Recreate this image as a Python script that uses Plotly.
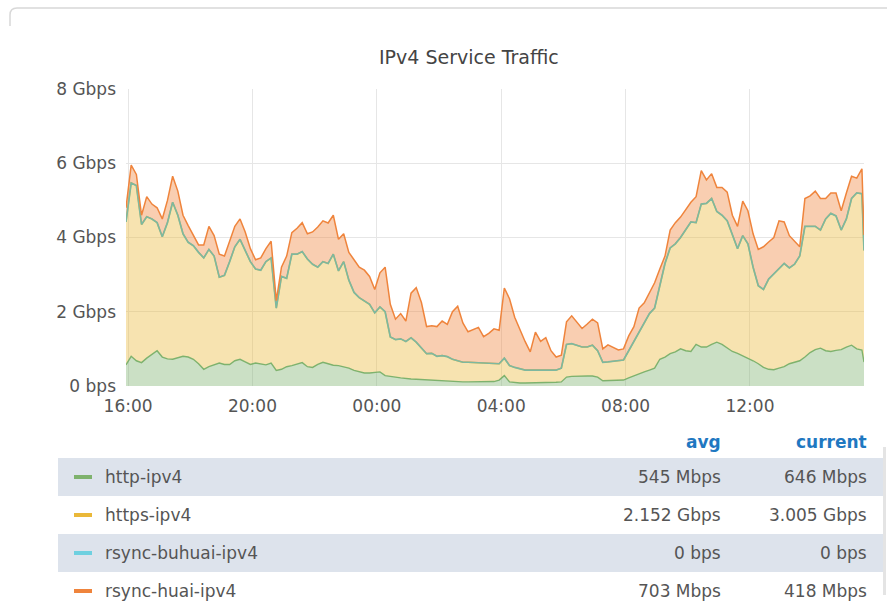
import plotly.graph_objects as go
import pandas as pd

# ---------------- data (Gbps), 10-minute samples from 15:56, last sample 15:40 ----------------
start_time = "2019-05-20 15:56"
n_regular = 143
end_time = "2019-05-21 15:40"

http = [0.57, 0.80, 0.68, 0.63, 0.75, 0.85, 0.95, 0.78, 0.73, 0.72,
        0.75, 0.80, 0.78, 0.72, 0.60, 0.45, 0.52, 0.58, 0.62, 0.58,
        0.58, 0.68, 0.72, 0.65, 0.58, 0.62, 0.60, 0.57, 0.62, 0.42,
        0.45, 0.52, 0.55, 0.58, 0.63, 0.52, 0.50, 0.58, 0.64, 0.60,
        0.56, 0.55, 0.52, 0.48, 0.42, 0.38, 0.35, 0.35, 0.36, 0.38,
        0.28, 0.25, 0.24, 0.22, 0.20, 0.19, 0.18, 0.17, 0.16, 0.15,
        0.14, 0.13, 0.13, 0.12, 0.11, 0.11, 0.11, 0.11, 0.11, 0.11,
        0.11, 0.12, 0.16, 0.28, 0.11, 0.09, 0.08, 0.08, 0.08, 0.08,
        0.08, 0.08, 0.09, 0.10, 0.11, 0.24, 0.26, 0.27, 0.27, 0.27,
        0.27, 0.24, 0.14, 0.15, 0.16, 0.16, 0.16, 0.22, 0.28, 0.34,
        0.38, 0.43, 0.48, 0.72, 0.78, 0.87, 0.92, 1.00, 0.95, 0.93,
        1.12, 1.05, 1.05, 1.12, 1.18, 1.12, 1.02, 0.93, 0.88, 0.82,
        0.75, 0.68, 0.60, 0.50, 0.45, 0.44, 0.48, 0.52, 0.60, 0.65,
        0.68, 0.78, 0.90, 0.98, 1.02, 0.95, 0.93, 0.96, 0.98, 1.05,
        1.10, 1.00, 0.97, 0.646]

https = [3.85, 4.67, 4.72, 3.72, 3.81, 3.65, 3.45, 3.24, 3.67, 4.23,
         3.85, 3.30, 3.09, 3.06, 3.00, 3.00, 3.16, 2.92, 2.31, 2.40,
         2.77, 3.07, 3.23, 3.00, 2.77, 2.53, 2.52, 2.78, 2.83, 1.68,
         2.50, 2.38, 3.00, 2.97, 2.99, 2.90, 2.78, 2.62, 2.71, 2.70,
         2.99, 2.55, 2.83, 2.37, 2.10, 2.00, 1.95, 1.85, 1.61, 1.75,
         1.72, 1.07, 1.01, 1.05, 1.00, 1.11, 1.00, 0.86, 0.71, 0.73,
         0.66, 0.69, 0.66, 0.60, 0.57, 0.53, 0.53, 0.52, 0.51, 0.51,
         0.51, 0.48, 0.44, 0.47, 0.44, 0.41, 0.38, 0.35, 0.35, 0.35,
         0.34, 0.33, 0.33, 0.33, 0.37, 0.88, 0.88, 0.83, 0.78, 0.78,
         0.83, 0.71, 0.50, 0.50, 0.51, 0.53, 0.54, 0.73, 0.92, 1.11,
         1.32, 1.52, 1.62, 1.98, 2.52, 2.85, 2.91, 3.00, 3.27, 3.49,
         3.28, 3.85, 3.87, 3.93, 3.52, 3.48, 3.43, 3.15, 2.82, 3.23,
         3.08, 2.52, 2.10, 2.10, 2.43, 2.58, 2.67, 2.78, 2.58, 2.63,
         2.82, 3.52, 3.40, 3.32, 3.18, 3.55, 3.72, 3.62, 3.22, 3.45,
         3.95, 4.20, 4.21, 3.005]

rsync_buhuai = [0.0] * 144

rsync_huai = [0.38, 0.48, 0.30, 0.25, 0.54, 0.40, 0.40, 0.48, 0.60, 0.70,
              0.65, 0.50, 0.45, 0.27, 0.20, 0.35, 0.62, 0.55, 0.62, 0.52,
              0.55, 0.55, 0.55, 0.50, 0.35, 0.25, 0.33, 0.35, 0.45, 0.20,
              0.25, 0.60, 0.58, 0.70, 0.78, 0.68, 0.87, 1.08, 1.10, 1.09,
              1.05, 0.85, 0.75, 0.75, 0.88, 0.82, 0.82, 0.75, 0.63, 0.92,
              1.20, 0.88, 0.55, 0.68, 0.55, 1.20, 1.47, 1.22, 0.73, 0.74,
              0.80, 0.93, 0.87, 1.28, 1.47, 1.06, 0.82, 0.89, 0.96, 0.71,
              0.80, 0.94, 0.90, 1.89, 1.80, 1.35, 1.04, 0.77, 0.49, 1.02,
              0.78, 0.89, 0.53, 0.35, 0.35, 0.61, 0.75, 0.62, 0.50, 0.62,
              0.70, 0.75, 0.36, 0.46, 0.38, 0.28, 0.30, 0.40, 0.40, 0.65,
              0.54, 0.55, 0.68, 0.45, 0.20, 0.48, 0.57, 0.55, 0.53, 0.53,
              0.70, 0.90, 0.63, 0.67, 0.65, 0.75, 0.77, 0.52, 0.60, 0.93,
              0.89, 0.90, 0.98, 1.15, 1.00, 0.98, 1.30, 1.12, 0.87, 0.62,
              0.25, 0.75, 0.82, 0.95, 0.85, 0.55, 0.55, 0.62, 0.52, 0.70,
              0.60, 0.40, 0.67, 0.418]

series_names = ["http-ipv4", "https-ipv4", "rsync-buhuai-ipv4", "rsync-huai-ipv4"]
series_colors = ["#7EB26D", "#EAB839", "#6ED0E0", "#EF843C"]
line_colors = ["#7EB26D", "#EAB839", "#7DB8A0", "#EF843C"]
line_widths = [1.4, 1.4, 1.7, 1.5]
fill_colors = ["rgba(126,178,109,0.40)", "rgba(234,184,57,0.40)",
               "rgba(110,208,224,0.40)", "rgba(239,132,60,0.40)"]
avg_labels = ["545 Mbps", "2.152 Gbps", "0 bps", "703 Mbps"]
current_labels = ["646 Mbps", "3.005 Gbps", "0 bps", "418 Mbps"]

y_tick_vals = [0, 2, 4, 6, 8]
y_tick_text = ["0 bps", "2 Gbps", "4 Gbps", "6 Gbps", "8 Gbps"]

times = list(pd.date_range(start_time, periods=n_regular, freq="10min")) + [pd.Timestamp(end_time)]

# ---------------- figure ----------------
W, H = 887, 603
L, R, T, B = 126, 864, 89, 386


def px(x):
    return (x - L) / (R - L)


def py(y):
    return (B - y) / (B - T)


FONT = "DejaVu Sans"
TXT = "#555555"
FS = 17

fig = go.Figure()
for name, vals, lc, lw, fc in zip(series_names, [http, https, rsync_buhuai, rsync_huai],
                                  line_colors, line_widths, fill_colors):
    fig.add_trace(go.Scatter(
        x=times, y=vals, name=name, mode="lines", stackgroup="one",
        line=dict(color=lc, width=lw), fillcolor=fc, showlegend=False,
    ))

shapes = []
# panel border (top-left corner)
shapes.append(dict(type="path", xref="paper", yref="paper",
                   path=f"M {px(10)} {py(26)} L {px(10)} {py(15)} Q {px(10)} {py(8)} {px(17)} {py(8)} L {px(887)} {py(8)}",
                   line=dict(color="#d8d8d8", width=1.5)))

row_centers = [477, 515, 553, 591]
row_tops = [458, 496, 534, 572]
for i, (yc, yt) in enumerate(zip(row_centers, row_tops)):
    if i % 2 == 0:
        shapes.append(dict(type="rect", xref="paper", yref="paper",
                           x0=px(58), x1=px(883), y0=py(yt), y1=py(yt + 38),
                           fillcolor="#dde3ec", line=dict(width=0), layer="below"))
    shapes.append(dict(type="line", xref="paper", yref="paper",
                       x0=px(74), x1=px(92), y0=py(yc), y1=py(yc),
                       line=dict(color=series_colors[i], width=4)))
# scrollbar-like strip at right
shapes.append(dict(type="rect", xref="paper", yref="paper",
                   x0=px(883), x1=px(886), y0=py(447), y1=py(595),
                   fillcolor="#e4e4e4", line=dict(width=0)))

annotations = []
annotations.append(dict(text="IPv4 Service Traffic", xref="paper", yref="paper",
                        x=px(469), y=py(57), showarrow=False,
                        font=dict(family=FONT, size=19, color="#444444"),
                        xanchor="center", yanchor="middle"))
annotations.append(dict(text="<b>avg</b>", xref="paper", yref="paper", x=px(723), y=py(442),
                        showarrow=False, xanchor="right", yanchor="middle",
                        font=dict(family=FONT, size=FS, color="#1F78C1")))
annotations.append(dict(text="<b>current</b>", xref="paper", yref="paper", x=px(869), y=py(442),
                        showarrow=False, xanchor="right", yanchor="middle",
                        font=dict(family=FONT, size=FS, color="#1F78C1")))
for i, yc in enumerate(row_centers):
    annotations.append(dict(text=series_names[i], xref="paper", yref="paper", x=px(103), y=py(yc),
                            showarrow=False, xanchor="left", yanchor="middle",
                            font=dict(family=FONT, size=FS, color=TXT)))
    annotations.append(dict(text=avg_labels[i], xref="paper", yref="paper", x=px(723), y=py(yc),
                            showarrow=False, xanchor="right", yanchor="middle",
                            font=dict(family=FONT, size=FS, color=TXT)))
    annotations.append(dict(text=current_labels[i], xref="paper", yref="paper", x=px(869), y=py(yc),
                            showarrow=False, xanchor="right", yanchor="middle",
                            font=dict(family=FONT, size=FS, color=TXT)))

fig.update_layout(
    width=W, height=H,
    margin=dict(l=L, r=W - R, t=T, b=H - B, pad=0),
    paper_bgcolor="white", plot_bgcolor="white",
    showlegend=False,
    shapes=shapes, annotations=annotations,
    font=dict(family=FONT, size=FS, color=TXT),
    xaxis=dict(
        range=[times[0], times[-1]],
        type="date", tickformat="%H:%M",
        tick0="2019-05-20 16:00", dtick=4 * 3600 * 1000,
        showgrid=True, gridcolor="#e6e6e6", gridwidth=1,
        zeroline=False, showline=False, ticks="",
        ticklabelstandoff=8,
        tickfont=dict(family=FONT, size=FS, color=TXT),
    ),
    yaxis=dict(
        range=[0, 8], tickvals=y_tick_vals, ticktext=y_tick_text,
        showgrid=True, gridcolor="#e6e6e6", gridwidth=1,
        zeroline=False, showline=False, ticks="",
        ticklabelstandoff=9,
        tickfont=dict(family=FONT, size=FS, color=TXT),
    ),
)

fig.write_html("out.html", config={"displayModeBar": False},
               post_script="document.body.style.margin='0px';document.body.style.overflow='hidden';")
